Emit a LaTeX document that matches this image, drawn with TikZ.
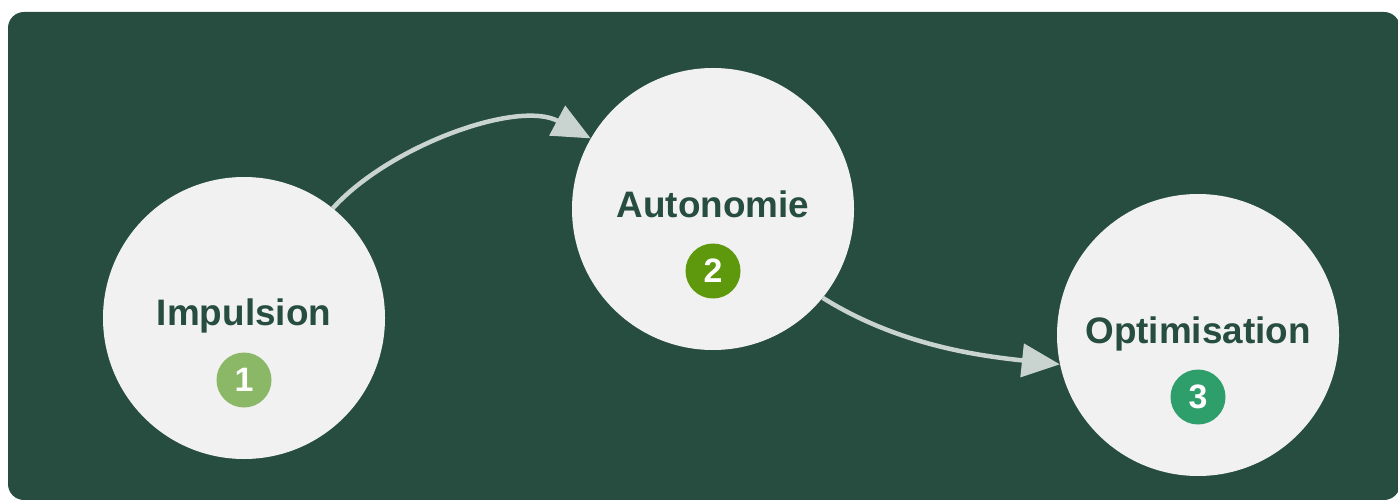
\documentclass[tikz,border=0pt]{standalone}
\usepackage{fontspec}
\setmainfont{Liberation Sans}
\usetikzlibrary{arrows.meta}
\definecolor{bg}{HTML}{264D3F}
\definecolor{disc}{HTML}{F1F1F1}
\definecolor{arrowc}{HTML}{C9D4D0}
\definecolor{bOne}{HTML}{8BB866}
\definecolor{bTwo}{HTML}{5E980C}
\definecolor{bThree}{HTML}{2E9E6B}
\tikzset{
  stage/.style={circle, fill=disc, minimum size=282bp, inner sep=0pt},
  label/.style={anchor=base, text=bg, font=\fontsize{37}{37}\selectfont\bfseries},
  badge/.style={circle, minimum size=55bp, inner sep=0pt, text=white, font=\fontsize{34}{34}\selectfont\bfseries},
  flow/.style={draw=arrowc, line width=4.5bp, -{Triangle[length=38bp,width=33bp]}},
}
\begin{document}
\begin{tikzpicture}[x=1bp,y=-1bp]
\useasboundingbox (0,0) rectangle (1398,500);
\fill[bg, rounded corners=16bp] (8,12) rectangle (1400,500);
\node[stage] (c1) at (244,318) {};
\node[stage] (c2) at (713,209) {};
\node[stage] (c3) at (1198,335) {};
\node[label] (t1) at (244,325) {Impulsion};
\node[label] (t2) at (713,218) {Autonomie};
\node[label] (t3) at (1198,343) {Optimisation};
\node[badge, fill=bOne] (b1) at (244,380) {1};
\node[badge, fill=bTwo] (b2) at (713,271) {2};
\node[badge, fill=bThree] (b3) at (1198,397) {3};
\draw[flow] (c1.51) to[out=48,in=152,looseness=0.8] (c2.150);
\draw[flow] (c2.-39.5) to[out=-32,in=174,looseness=0.9] (c3.192);
\end{tikzpicture}
\end{document}
